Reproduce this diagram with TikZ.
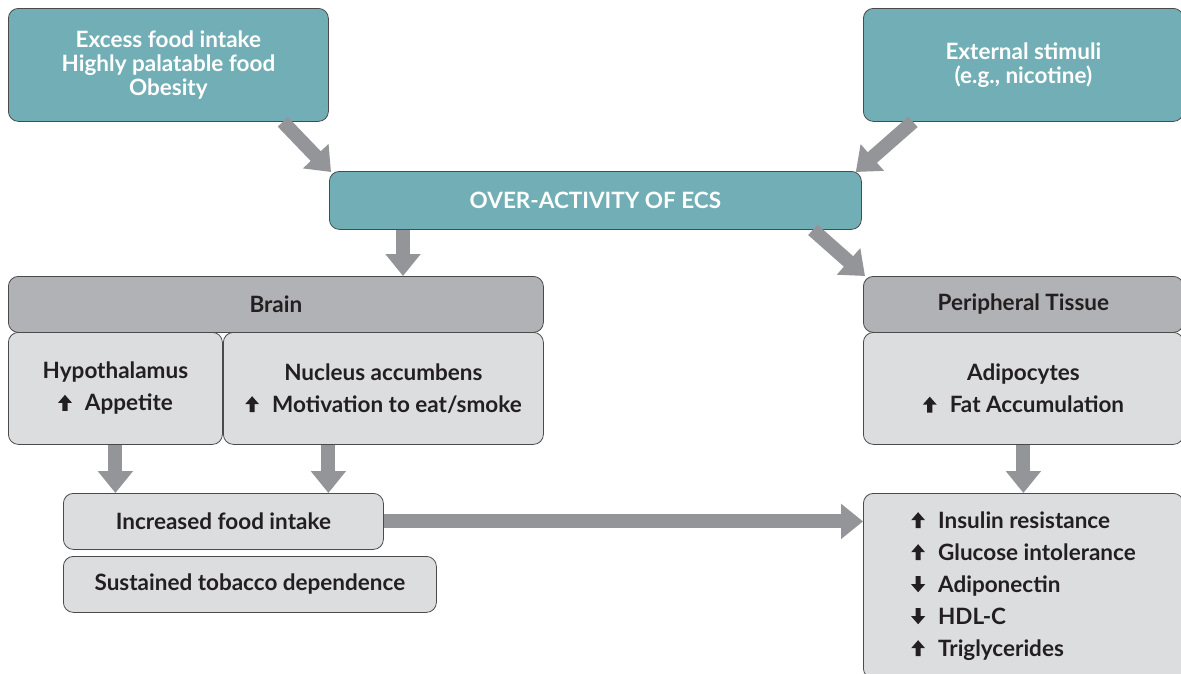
\documentclass[tikz,border=0pt]{standalone}
\usepackage{fontspec}
\setmainfont{Lato}
\usetikzlibrary{arrows.meta,calc}
\definecolor{teal}{HTML}{72AEB5}
\definecolor{hdrgray}{HTML}{B1B2B5}
\definecolor{lightgray}{HTML}{DCDDDF}
\definecolor{arrgray}{HTML}{939598}
\definecolor{edge}{HTML}{4A4A4A}
\definecolor{ink}{HTML}{231F20}
\newcommand{\upa}{\tikz[baseline=0pt,x=1pt,y=1pt]{\fill[ink,sharp corners] (-2.6,0) -- (-2.6,8) -- (-7,8) -- (0,16) -- (7,8) -- (2.6,8) -- (2.6,0) -- cycle;}\hspace{13pt}}
\newcommand{\dna}{\tikz[baseline=0pt,x=1pt,y=1pt]{\fill[ink,sharp corners] (-2.6,16) -- (-2.6,8) -- (-7,8) -- (0,0) -- (7,8) -- (2.6,8) -- (2.6,16) -- cycle;}\hspace{13pt}}
\begin{document}
\begin{tikzpicture}[x=1pt,y=-1pt,
  box/.style={draw=edge,line width=0.8pt,rounded corners=10pt,anchor=north west,
    inner sep=0pt,font=\fontsize{22.5}{24}\selectfont\bfseries,align=center},
  tealbox/.style={box,fill=teal,text=white},
  hdrbox/.style={box,fill=hdrgray,text=ink},
  lightbox/.style={box,fill=lightgray,text=ink},
  listfont/.style={font=\fontsize{22.5}{32}\selectfont\bfseries},
  arr/.style={draw=arrgray,line width=14pt,-{Triangle[width=34pt,length=22pt]}}]
\useasboundingbox (0,0) rectangle (1181,673);
% top boxes
\node[tealbox,minimum width=320pt,minimum height=113pt] (tl) at (8,8)
  {Excess food intake\\Highly palatable food\\Obesity};
\node[tealbox,minimum width=320pt,minimum height=113pt] (tr) at (863,8)
  {External stimuli\\(e.g., nicotine)};
\node[tealbox,minimum width=532pt,minimum height=58pt] (ecs) at (329,171)
  {OVER-ACTIVITY OF ECS};
% brain
\node[hdrbox,minimum width=535pt,minimum height=56pt] (brain) at (8,276) {Brain};
\node[lightbox,listfont,minimum width=214pt,minimum height=112pt] (hypo) at (8,332)
  {Hypothalamus\\\upa Appetite};
\node[lightbox,listfont,minimum width=320pt,minimum height=112pt] (nuc) at (223,332)
  {Nucleus accumbens\\\upa Motivation to eat/smoke};
% peripheral
\node[hdrbox,minimum width=320pt,minimum height=56pt] (peri) at (863,276) {Peripheral Tissue};
\node[lightbox,listfont,minimum width=320pt,minimum height=112pt] (adip) at (863,332)
  {Adipocytes\\\upa Fat Accumulation};
% outcomes
\node[lightbox,minimum width=320pt,minimum height=56pt] (inc) at (63,493) {Increased food intake};
\node[lightbox,minimum width=373pt,minimum height=56pt] (sus) at (63,556) {Sustained tobacco dependence};
\node[lightbox,minimum width=320pt,minimum height=185pt] (res) at (863,493) {};
\node[listfont,text=ink,align=left,inner sep=0pt] (reslist) at (res.center)
  {\upa Insulin resistance\\\upa Glucose intolerance\\\dna Adiponectin\\\dna HDL-C\\\upa Triglycerides};
% arrows
\coordinate (a1) at ([xshift=-46pt]tl.south east);
\coordinate (a2) at ([xshift=50pt]tr.south west);
\coordinate (a3) at ([xshift=74pt]ecs.south west);
\coordinate (a4) at ([xshift=-49pt]ecs.south east);
\coordinate (a5) at ([xshift=-55pt]nuc.south);
\draw[arr] (a1) -- ([xshift=2pt,yshift=-1pt]ecs.north west);
\draw[arr] (a2) -- ([xshift=-6pt,yshift=-1pt]ecs.north east);
\draw[arr] (a3) -- (a3 |- brain.north);
\draw[arr] (a4) -- ([xshift=2pt]peri.north west);
\draw[arr] (hypo.south) -- (hypo.south |- inc.north);
\draw[arr] (a5) -- (a5 |- inc.north);
\draw[arr] (adip.south) -- (adip.south |- res.north);
\draw[arr] (inc.east) -- (inc.east -| res.west);
\end{tikzpicture}
\end{document}
